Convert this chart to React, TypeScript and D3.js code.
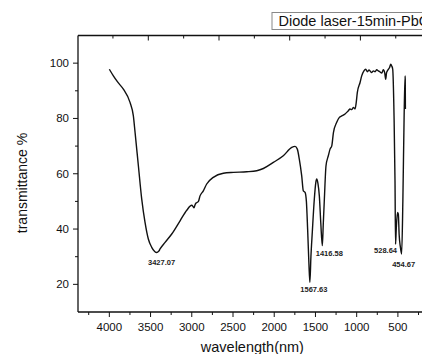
import React from "react";
import * as d3 from "d3";

const wavenumbers = [
  4000, 3951, 3900, 3830, 3749, 3709, 3688, 3648, 3607, 3567, 3527, 3486, 3450, 3427, 3400, 3385,
  3324, 3243, 3142, 3061, 3001, 2981, 2973, 2960, 2948, 2921, 2900, 2860, 2819, 2739, 2617, 2496,
  2334, 2212, 2132, 2011, 1890, 1788, 1748, 1720, 1696, 1667, 1647, 1626, 1610, 1595, 1580, 1567.63,
  1555, 1538, 1514, 1495, 1485, 1470, 1453, 1435, 1416.58, 1405, 1392, 1372, 1344, 1323, 1302, 1282,
  1242, 1210, 1181, 1141, 1101, 1081, 1060, 1041, 1020, 1008, 992, 959, 939, 912, 890, 870,
  850, 817, 797, 777, 757, 737, 716, 696, 677, 660, 648, 638, 628, 600, 587, 575,
  563, 547, 535, 528.64, 520, 505, 495, 485, 470, 454.67, 440, 425, 413, 411, 409
];
const transmittance = [
  97.8, 95.4, 93.2, 90.6, 85.8, 81, 75, 63, 50.8, 42.4, 36.4, 33.4, 31.9, 31.5, 32, 32.8,
  35.2, 38.2, 43, 46.8, 48.6, 48.0, 47.7, 48.8, 49.4, 49.9, 52, 53.8, 56.3, 58.7, 60.2, 60.5,
  60.7, 61.1, 61.9, 64.1, 66.5, 69.5, 69.9, 68.9, 65.3, 59.3, 53.8, 53.3, 50, 40, 28, 20.7,
  30, 39, 50.8, 57, 58.1, 56.5, 52, 42, 34, 42, 50.8, 62.9, 66.5, 68.9, 70.1, 74.9,
  78.6, 80.4, 80.9, 81.6, 82.8, 83.4, 83.2, 84, 83.4, 85.2, 89.4, 93, 95.4, 97.2, 97.8, 96.9,
  97.5, 96.6, 97.2, 96.9, 97.6, 97.2, 96.8, 96.4, 97.6, 96.5, 94.2, 96.5, 97.2, 98.5, 99.6, 99,
  97.8, 81, 56.9, 34.5, 40, 46, 45.5, 38, 33.5, 31, 50, 80, 95.4, 94, 83.4
];

const peakLabels = ["3427.07", "1567.63", "1416.58", "528.64", "454.67"];
const peakWavenumbers = [3427.07, 1567.63, 1416.58, 528.64, 454.67];
const peakValues = [31.5, 20.7, 34, 34.5, 31];

const xTickValues = [4000, 3500, 3000, 2500, 2000, 1500, 1000, 500];
const yTickValues = [20, 40, 60, 80, 100];

const legendText = "Diode laser-15min-PbO";
const xTitle = "wavelength(nm)";
const yTitle = "transmittance %";

const W = 422;
const H = 354;
const left = 78;
const top = 35.5;
const bottom = 312;
const pxPerUnit = 0.08245;
const xDomain = [4380, 150];
const right = left + (xDomain[0] - xDomain[1]) * pxPerUnit;

const font = "Arial, 'Liberation Sans', sans-serif";

const labelOffsets = [
  [5, 12],
  [4, 10],
  [7, 10],
  [-10, 9],
  [2, 13],
];

export default function App() {
  const x = d3.scaleLinear().domain(xDomain).range([left, right]);
  const y = d3.scaleLinear().domain([10, 110]).range([bottom, top]);
  // Top axis has its own independent tick spacing in the original
  const xTop = d3.scaleLinear().domain([-1, 4]).range([77.6, 77.6 + 5 * 70.7]);

  const data = wavenumbers.map((w, i) => [w, transmittance[i]] as [number, number]);
  const line = d3
    .line<[number, number]>()
    .x((d) => x(d[0]))
    .y((d) => y(d[1]))
    .curve(d3.curveMonotoneX);

  const xMinor = d3.range(250, 4400, 250).filter((v) => v % 500 !== 0 && v <= 4380);
  const yMinor = [30, 50, 70, 90];
  const topMajor = [0, 1, 2, 3, 4];
  const topMinor = [-0.5, 0.5, 1.5, 2.5, 3.5];

  return (
    <svg
      width={W}
      height={H}
      style={{ position: "absolute", left: 0, top: 0, background: "#fff" }}
      fontFamily={font}
    >
      <rect x={0} y={0} width={W} height={H} fill="#fff" />
      {/* frame */}
      <g stroke="#111" strokeWidth={1.3} fill="none">
        <line x1={left} x2={left} y1={top} y2={bottom} />
        <line x1={left} x2={right} y1={top} y2={top} />
        <line x1={left} x2={right} y1={bottom} y2={bottom} />
        <line x1={right} x2={right} y1={top} y2={bottom} />
      </g>
      {/* ticks */}
      <g stroke="#111" strokeWidth={1}>
        {xTickValues.map((v) => (
          <line key={"xb" + v} x1={x(v)} x2={x(v)} y1={bottom} y2={bottom + 5} />
        ))}
        {xMinor.map((v) => (
          <line key={"xm" + v} x1={x(v)} x2={x(v)} y1={bottom} y2={bottom + 3} />
        ))}
        {topMajor.map((v) => (
          <line key={"tm" + v} x1={xTop(v)} x2={xTop(v)} y1={top} y2={top + 5} />
        ))}
        {topMinor.map((v) => (
          <line key={"tn" + v} x1={xTop(v)} x2={xTop(v)} y1={top} y2={top + 3} />
        ))}
        {yTickValues.map((v) => (
          <line key={"y" + v} x1={left - 5} x2={left} y1={y(v)} y2={y(v)} />
        ))}
        {yMinor.map((v) => (
          <line key={"ym" + v} x1={left - 3} x2={left} y1={y(v)} y2={y(v)} />
        ))}
      </g>
      {/* tick labels */}
      <g fontSize={11.5} fill="#111">
        {xTickValues.map((v) => (
          <text key={"xl" + v} x={x(v)} y={bottom + 18.5} textAnchor="middle">
            {v}
          </text>
        ))}
        {yTickValues.map((v) => (
          <text key={"yl" + v} x={left - 9} y={y(v) + 4} textAnchor="end">
            {v}
          </text>
        ))}
      </g>
      {/* axis titles */}
      <text x={(left + right) / 2} y={352} textAnchor="middle" fontSize={14.5} fill="#111">
        {xTitle}
      </text>
      <text
        transform={`translate(26.5, 183) rotate(-90)`}
        textAnchor="middle"
        fontSize={14}
        fill="#111"
      >
        {yTitle}
      </text>
      {/* data line */}
      <path d={line(data) || ""} fill="none" stroke="#111" strokeWidth={1.4} strokeLinejoin="round" />
      {/* peak labels */}
      <g fontSize={7.5} fontWeight="bold" fill="#222" textAnchor="middle">
        {peakLabels.map((t, i) => (
          <text
            key={t}
            x={x(peakWavenumbers[i]) + labelOffsets[i][0]}
            y={y(peakValues[i]) + labelOffsets[i][1]}
          >
            {t}
          </text>
        ))}
      </g>
      {/* legend */}
      <rect x={272} y={12.5} width={180} height={17} fill="#fff" stroke="#888" strokeWidth={1} />
      <text x={278.5} y={26} fontSize={14.5} fill="#111">
        {legendText}
      </text>
    </svg>
  );
}
